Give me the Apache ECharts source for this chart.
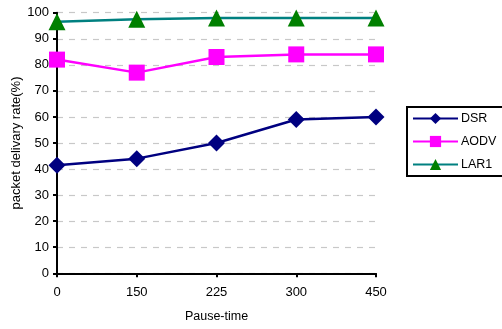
<!DOCTYPE html>
<html>
<head>
<meta charset="utf-8">
<script src="https://cdn.jsdelivr.net/npm/echarts@6/dist/echarts.min.js"></script>
<style>html,body{margin:0;padding:0;background:#fff}#c{width:502px;height:329px}</style>
</head>
<body>
<div id="c"></div>
<script>
const categories = ['0', '150', '225', '300', '450'];
const dsr = [41.5, 44, 50, 59, 60];
const aodv = [82, 77, 83, 84, 84];
const lar1 = [96.5, 97.5, 98, 98, 98];
const yTicks = { min: 0, max: 100, interval: 10 };

const font = 'Liberation Sans, Arial, sans-serif';
const chart = echarts.init(document.getElementById('c'), null, { renderer: 'canvas' });
chart.setOption({
  animation: false,
  backgroundColor: '#fff',
  textStyle: { fontFamily: font, color: '#000' },
  grid: { left: 57, right: 126, top: 12.7, bottom: 55.7, containLabel: false, outerBoundsMode: 'none' },
  legend: {
    orient: 'vertical',
    left: 407, top: 107,
    width: 95,
    padding: [5, 20, 5, 5],
    borderColor: '#000', borderWidth: 2,
    itemWidth: 45, itemHeight: 14, itemGap: 10,
    textStyle: { fontFamily: font, fontSize: 12.5, color: '#000', padding: [0, 0, 0, -2] },
    data: ['DSR', 'AODV', 'LAR1']
  },
  xAxis: {
    type: 'category',
    data: categories,
    boundaryGap: false,
    name: 'Pause-time',
    nameLocation: 'middle',
    nameGap: 37,
    nameMoveOverlap: false,
    nameTextStyle: { fontFamily: font, fontSize: 12.5, color: '#000' },
    axisLine: { lineStyle: { color: '#000', width: 2 } },
    axisTick: { show: true, length: 4, alignWithLabel: true, lineStyle: { color: '#000', width: 2 } },
    axisLabel: { fontFamily: font, fontSize: 13, color: '#000', margin: 13 },
    splitLine: { show: false }
  },
  yAxis: {
    type: 'value',
    min: yTicks.min, max: yTicks.max, interval: yTicks.interval,
    name: 'packet delivary rate(%)',
    nameLocation: 'middle',
    nameGap: 34,
    nameMoveOverlap: false,
    nameTextStyle: { fontFamily: font, fontSize: 13, color: '#000' },
    axisLine: { show: true, lineStyle: { color: '#000', width: 2 } },
    axisTick: { show: true, length: 4, lineStyle: { color: '#000', width: 2 } },
    axisLabel: { fontFamily: font, fontSize: 13, color: '#000', margin: 8 },
    splitLine: { show: true, lineStyle: { color: '#c8c8c8', type: [6, 6], width: 1.2 } }
  },
  series: [
    {
      name: 'DSR', type: 'line', data: dsr,
      symbol: 'diamond', symbolSize: 17,
      itemStyle: { color: '#000080' },
      lineStyle: { color: '#000080', width: 2.5 },
      z: 3
    },
    {
      name: 'AODV', type: 'line', data: aodv,
      symbol: 'rect', symbolSize: 16,
      itemStyle: { color: '#ff00ff' },
      lineStyle: { color: '#ff00ff', width: 2.5 },
      z: 3
    },
    {
      name: 'LAR1', type: 'line', data: lar1,
      symbol: 'triangle', symbolSize: [17, 17],
      itemStyle: { color: '#008000' },
      lineStyle: { color: '#008080', width: 2.5 },
      z: 3
    }
  ]
});
</script>
</body>
</html>
